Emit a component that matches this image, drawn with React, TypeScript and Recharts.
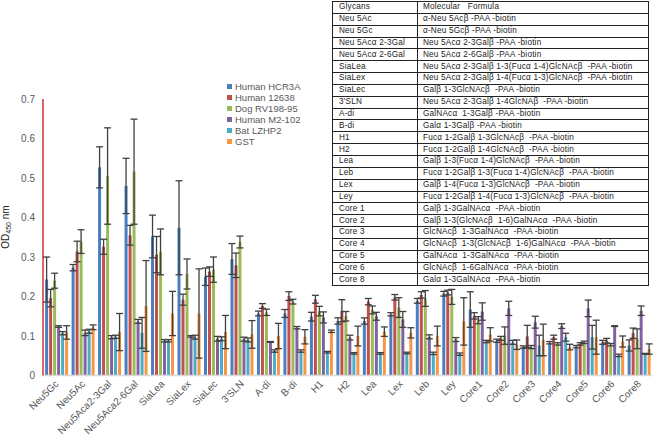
import { Bar, BarChart, ErrorBar, XAxis, YAxis } from "recharts";

const categories = [
  "Neu5Gc", "Neu5Ac", "Neu5Aca2-3Gal", "Neu5Aca2-6Gal", "SiaLea", "SiaLex", "SiaLec", "3'SLN",
  "A-di", "B-di", "H1", "H2", "Lea", "Lex", "Leb", "Ley",
  "Core1", "Core2", "Core3", "Core4", "Core5", "Core6", "Core8",
];

const seriesNames = ["Human HCR3A", "Human 12638", "Dog RV198-95", "Human M2-102", "Bat LZHP2", "GST"];
const seriesColors = ["#4a7ebf", "#c0504d", "#9bbb59", "#8064a2", "#4bacc6", "#f79646"];

const hcr3a = [0.243, 0.273, 0.527, 0.48, 0.352, 0.374, 0.25, 0.295, 0.157, 0.157, 0.149, 0.138, 0.138, 0.155, 0.189, 0.207, 0.167, 0.088, 0.072, 0.083, 0.073, 0.084, 0.076];
const hcr3aErr = [0.057, 0.008, 0.052, 0.07, 0.054, 0.119, 0.022, 0.039, 0.006, 0.01, 0.011, 0.008, 0.008, 0.004, 0.006, 0.006, 0.045, 0.004, 0.003, 0.003, 0.003, 0.005, 0.014];

const h12638 = [0.196, 0.314, 0.326, 0.355, 0.306, 0.192, 0.263, 0.279, 0.176, 0.201, 0.193, 0.164, 0.187, 0.198, 0.204, 0.21, 0.151, 0.094, 0.099, 0.097, 0.08, 0.088, 0.107];
const h12638Err = [0.022, 0.026, 0.019, 0.025, 0.046, 0.014, 0.012, 0.031, 0.006, 0.011, 0.01, 0.028, 0.008, 0.007, 0.008, 0.006, 0.008, 0.005, 0.028, 0.005, 0.003, 0.006, 0.013];

const dogRv = [0.24, 0.339, 0.505, 0.516, 0.313, 0.257, 0.268, 0.338, 0.16, 0.187, 0.163, 0.15, 0.166, 0.172, 0.195, 0.199, 0.14, 0.101, 0.072, 0.08, 0.084, 0.078, 0.093];
const dogRvErr = [0.019, 0.03, 0.122, 0.133, 0.058, 0.038, 0.032, 0.015, 0.008, 0.006, 0.012, 0.012, 0.01, 0.025, 0.02, 0.019, 0.009, 0.022, 0.004, 0.003, 0.003, 0.003, 0.025];

const hM2 = [0.124, 0.108, 0.097, 0.137, 0.088, 0.099, 0.093, 0.092, 0.085, 0.121, 0.147, 0.096, 0.15, 0.142, 0.098, 0.091, 0.162, 0.17, 0.135, 0.125, 0.17, 0.125, 0.164];
const hM2Err = [0.002, 0.007, 0.004, 0.005, 0.003, 0.002, 0.006, 0.005, 0.001, 0.003, 0.014, 0.006, 0.01, 0.02, 0.005, 0.005, 0.022, 0.018, 0.015, 0.006, 0.021, 0.001, 0.012];

const batLz = [0.107, 0.112, 0.098, 0.108, 0.088, 0.097, 0.093, 0.09, 0.062, 0.062, 0.059, 0.056, 0.056, 0.057, 0.056, 0.054, 0.086, 0.084, 0.076, 0.097, 0.097, 0.051, 0.055];
const batLzErr = [0.004, 0.005, 0.004, 0.039, 0.003, 0.005, 0.005, 0.005, 0.003, 0.003, 0.002, 0.002, 0.002, 0.002, 0.003, 0.003, 0.003, 0.005, 0.026, 0.01, 0.03, 0.003, 0.001];

const gst = [0.109, 0.122, 0.11, 0.176, 0.157, 0.157, 0.11, 0.104, 0.1, 0.098, 0.112, 0.1, 0.111, 0.108, 0.1, 0.137, 0.104, 0.078, 0.09, 0.072, 0.097, 0.086, 0.067];
const gstErr = [0.017, 0.006, 0.047, 0.115, 0.056, 0.113, 0.042, 0.035, 0.032, 0.018, 0.003, 0.025, 0.012, 0.013, 0.025, 0.06, 0.017, 0.012, 0.04, 0.007, 0.043, 0.014, 0.013];

const yTicks = [0, 0.1, 0.2, 0.3, 0.4, 0.5, 0.6, 0.7];

const glycans = [
  "Neu 5Ac", "Neu 5Gc", "Neu 5Acα 2-3Gal", "Neu 5Acα 2-6Gal", "SiaLea", "SiaLex", "SiaLec", "3'SLN",
  "A-di", "B-di", "H1", "H2", "Lea", "Leb", "Lex", "Ley",
  "Core 1", "Core 2", "Core 3", "Core 4", "Core 5", "Core 6", "Core 8",
];

const formulas = [
  "α-Neu 5Acβ -PAA -biotin",
  "α-Neu 5Gcβ -PAA -biotin",
  "Neu 5Acα 2-3Galβ -PAA -biotin",
  "Neu 5Acα 2-6Galβ -PAA -biotin",
  "Neu 5Acα 2-3Galβ 1-3(Fucα 1-4)GlcNAcβ  -PAA -biotin",
  "Neu 5Acα 2-3Galβ 1-4(Fucα 1-3)GlcNAcβ  -PAA -biotin",
  "Galβ 1-3GlcNAcβ  -PAA -biotin",
  "Neu 5Acα 2-3Galβ 1-4GlcNAβ  -PAA -biotin",
  "GalNAcα  1-3Galβ -PAA -biotin",
  "Galα 1-3Galβ -PAA -biotin",
  "Fucα 1-2Galβ 1-3GlcNAcβ  -PAA -biotin",
  "Fucα 1-2Galβ 1-4GlcNAcβ  -PAA -biotin",
  "Galβ 1-3(Fucα 1-4)GlcNAcβ  -PAA -biotin",
  "Fucα 1-2Galβ 1-3(Fucα 1-4)GlcNAcβ  -PAA -biotin",
  "Galβ 1-4(Fucα 1-3)GlcNAcβ  -PAA -biotin",
  "Fucα 1-2Galβ 1-4(Fucα 1-3)GlcNAcβ  -PAA -biotin",
  "Galβ 1-3GalNAcα  -PAA -biotin",
  "Galβ 1-3(GlcNAcβ  1-6)GalNAcα  -PAA -biotin",
  "GlcNAcβ  1-3GalNAcα  -PAA -biotin",
  "GlcNAcβ  1-3(GlcNAcβ  1-6)GalNAcα  -PAA -biotin",
  "GalNAcα  1-3GalNAcα  -PAA -biotin",
  "GlcNAcβ  1-6GalNAcα  -PAA -biotin",
  "Galα 1-3GalNAcα  -PAA -biotin",
];

const values = [hcr3a, h12638, dogRv, hM2, batLz, gst];
const errors = [hcr3aErr, h12638Err, dogRvErr, hM2Err, batLzErr, gstErr];

const data = categories.map((name, i) => {
  const row: Record<string, number | string> = { name };
  values.forEach((v, s) => {
    row[`s${s}`] = v[i];
    row[`e${s}`] = errors[s][i];
  });
  return row;
});

const FONT = '"Liberation Sans", Arial, sans-serif';
const GRAY = "#595959";

// rotated category labels, text ends under the middle of each group
function AngledTick({ x, y, payload }: any) {
  const ax = x + 3;
  const ay = y + 1;
  return (
    <text
      x={ax}
      y={ay}
      transform={`rotate(-45 ${ax} ${ay})`}
      textAnchor="end"
      fontSize={10}
      fontFamily={FONT}
      fill={GRAY}
    >
      {payload.value}
    </text>
  );
}

const cell = {
  border: "1px solid #222",
  padding: "0 0 0 6px",
  height: 10.85,
  lineHeight: "10px",
  whiteSpace: "pre" as const,
  overflow: "hidden",
};

export default function App() {
  return (
    <div style={{ position: "absolute", left: 0, top: 0, width: 668, height: 441, background: "#fff" }}>
      <BarChart
        width={668}
        height={441}
        data={data}
        margin={{ top: 99, right: 16, bottom: 35.5, left: 0 }}
        barCategoryGap="8%"
        barGap={1}
      >
        <XAxis
          dataKey="name"
          interval={0}
          height={30}
          tickLine={false}
          axisLine={{ stroke: "#d9d9d9", strokeWidth: 1.5 }}
          tick={<AngledTick />}
        />
        <YAxis
          width={43}
          domain={[0, 0.7]}
          ticks={yTicks}
          tickLine={false}
          axisLine={{ stroke: "#c00000", strokeWidth: 1.2 }}
          tick={{ fontSize: 10, fill: GRAY, fontFamily: FONT }}
        />
        {seriesNames.map((n, s) => (
          <Bar key={n} dataKey={`s${s}`} name={n} fill={seriesColors[s]} isAnimationActive={false}>
            <ErrorBar dataKey={`e${s}`} width={3.5} stroke="#404040" strokeWidth={1.3} />
          </Bar>
        ))}
      </BarChart>
      <div style={{ position: "absolute", left: 227, top: 81, fontFamily: FONT, fontSize: 9.5, color: GRAY }}>
        {seriesNames.map((n, i) => (
          <div key={n} style={{ display: "flex", alignItems: "center", height: 11 }}>
            <span style={{ width: 5, height: 5, background: seriesColors[i], marginRight: 3 }} />
            {n}
          </div>
        ))}
      </div>
      <svg style={{ position: "absolute", left: 0, top: 0 }} width={20} height={441}>
        <text
          transform="translate(9 227) rotate(-90)"
          textAnchor="middle"
          fontSize={10}
          fontFamily={FONT}
          fill="#222"
        >
          OD<tspan fontSize={7} dy={2}>450</tspan>
          <tspan dy={-2}> nm</tspan>
        </text>
      </svg>
      <table
        style={{
          position: "absolute",
          left: 332,
          top: 1,
          width: 317,
          borderCollapse: "collapse",
          tableLayout: "fixed",
          fontFamily: FONT,
          fontSize: 8.2,
          letterSpacing: 0.2,
          color: "#222",
          background: "#fff",
        }}
      >
        <colgroup>
          <col style={{ width: 85 }} />
          <col />
        </colgroup>
        <tbody>
          <tr>
            <td style={cell}>Glycans</td>
            <td style={{ ...cell, paddingLeft: 5 }}>{"Molecular   Formula"}</td>
          </tr>
          {glycans.map((g, i) => (
            <tr key={g}>
              <td style={cell}>{g}</td>
              <td style={{ ...cell, paddingLeft: 5 }}>{formulas[i]}</td>
            </tr>
          ))}
        </tbody>
      </table>
    </div>
  );
}
